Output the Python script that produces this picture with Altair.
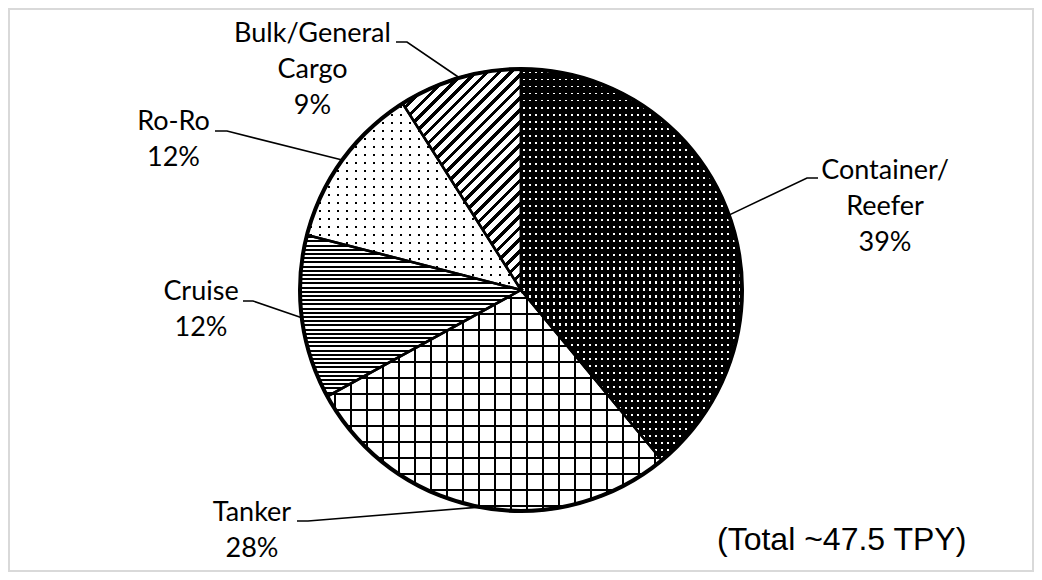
import math
import altair as alt
import pandas as pd

# ---------------- data ----------------
categories = ["Container/Reefer", "Tanker", "Cruise", "Ro-Ro", "Bulk/General Cargo"]
shares = [39, 28, 12, 12, 9]
label_names = ["Container/\nReefer", "Tanker", "Cruise", "Ro-Ro", "Bulk/General\nCargo"]
total_note = "(Total ~47.5 TPY)"

# ---------------- layout (pixels) ----------------
W, H = 1024, 562
PAD = 1
OFF = 8 + PAD            # page offset of the plot area
R = 221                  # pie radius
CX, CY = W / 2, H / 2
# label anchors (centre x, first baseline y), leader elbows and ends in page pixels
label_anchor = [(885, 179), (252, 521), (201, 300), (173.5, 130), (312.5, 42)]
leader_elbow = [(807, 178), (308, 521), (253, 301), (227, 131), (407, 42)]
leader_end = [(818, 178), (297, 521), (243, 301), (215, 131), (396, 42)]
note_pos = (717, 550)

# ---------------- derived tables ----------------
total = sum(shares)
starts, ends = [], []
acc = 0
for s in shares:
    starts.append(acc / total * 100)
    acc += s
    ends.append(acc / total * 100)

df = pd.DataFrame({"cat": categories, "share": shares, "start": starts, "end": ends})

lab_rows = []
line_rows = []
for i, c in enumerate(categories):
    mid = math.radians((starts[i] + ends[i]) / 2 * 3.6)
    rx, ry = CX + R * math.sin(mid), CY - R * math.cos(mid)
    lab_rows.append({"cat": c, "x": label_anchor[i][0] - OFF, "y": label_anchor[i][1] - OFF,
                     "text": f"{label_names[i]}\n{shares[i]}%"})
    pts = [(rx, ry), (leader_elbow[i][0] - OFF, leader_elbow[i][1] - OFF),
           (leader_end[i][0] - OFF, leader_end[i][1] - OFF)]
    for k, (px, py) in enumerate(pts):
        line_rows.append({"cat": c, "k": k, "x": px, "y": py})
lab_df = pd.DataFrame(lab_rows)
line_df = pd.DataFrame(line_rows)


# ---------------- pattern helpers ----------------
def slice_bbox(i):
    a0, a1 = starts[i] * 3.6, ends[i] * 3.6
    pts = [(0.0, 0.0)]
    for a in [a0, a1] + [c for c in (0, 90, 180, 270, 360) if a0 < c < a1]:
        r = math.radians(a)
        pts.append((R * math.sin(r), -R * math.cos(r)))
    xs = [p[0] for p in pts]
    ys = [p[1] for p in pts]
    return max(xs) - min(xs), max(ys) - min(ys)


def stripe_stops(length, period, on, on_color, off_color):
    stops = [{"offset": 0, "color": off_color}]
    pos = (period - on) / 2
    while pos < length:
        s = round(pos / length, 5)
        e = round(min((pos + on) / length, 1), 5)
        stops += [{"offset": s, "color": off_color}, {"offset": s, "color": on_color},
                  {"offset": e, "color": on_color}, {"offset": e, "color": off_color}]
        pos += period
    stops.append({"offset": 1, "color": off_color})
    return stops


def grad_h(i, period, on, on_color, off_color):
    """stripes that vary along y (horizontal lines)"""
    w, h = slice_bbox(i)
    return {"gradient": "linear", "x1": 0, "y1": 0, "x2": 0, "y2": 1,
            "stops": stripe_stops(h, period, on, on_color, off_color)}


def grad_v(i, period, on, on_color, off_color):
    """stripes that vary along x (vertical lines)"""
    w, h = slice_bbox(i)
    return {"gradient": "linear", "x1": 0, "y1": 0, "x2": 1, "y2": 0,
            "stops": stripe_stops(w, period, on, on_color, off_color)}


def grad_diag(i, period, on, on_color, off_color):
    """45 degree '/' stripes"""
    w, h = slice_bbox(i)
    a = (w + h) / (w * w + h * h)
    L = (w + h) / math.sqrt(2)
    return {"gradient": "linear", "x1": 0, "y1": 0, "x2": a * w, "y2": a * h,
            "stops": stripe_stops(L, period, on, on_color, off_color)}


CLEAR = "rgba(255,255,255,0)"
patterns = {
    # container: black with white dots
    0: [grad_h(0, 7, 2, "#ffffff", "#000000"), grad_v(0, 6, 2, CLEAR, "#000000")],
    # tanker: grid
    1: [grad_v(1, 16, 2, "#000000", "#ffffff"), grad_h(1, 16, 2, "#000000", CLEAR)],
    # cruise: horizontal lines
    2: [grad_h(2, 4.2, 2, "#000000", "#ffffff")],
    # ro-ro: white with black dots
    3: [grad_h(3, 8, 2, "#000000", "#ffffff"), grad_v(3, 9, 2, CLEAR, "#ffffff")],
    # bulk: diagonal stripes
    4: [grad_diag(4, 8.3, 3.3, "#000000", "#ffffff")],
}

theta_scale = alt.Scale(domain=[0, 100])
base = alt.Chart(df)

layers = []
for i, c in enumerate(categories):
    for g in patterns[i]:
        layers.append(
            base.transform_filter(alt.datum.cat == c)
            .mark_arc(radius=R, fill=g, strokeWidth=0)
            .encode(theta=alt.Theta("start:Q", scale=theta_scale, stack=None),
                    theta2="end:Q")
        )

# slice edges
layers.append(
    base.mark_arc(radius=R, filled=False, stroke="#000000", strokeWidth=2.5)
    .encode(theta=alt.Theta("start:Q", scale=theta_scale, stack=None), theta2="end:Q")
)
# outer rim
layers.append(
    alt.Chart(pd.DataFrame({"k": [0]}))
    .mark_arc(radius=R, theta=0, theta2=math.tau, filled=False, stroke="#000000", strokeWidth=4)
    .encode(detail="k:N")
)

xs = alt.Scale(domain=[0, W])
ys = alt.Scale(domain=[0, H], reverse=True)

leaders = alt.Chart(line_df).mark_line(color="#000000", strokeWidth=1.6).encode(
    x=alt.X("x:Q", scale=xs, axis=None),
    y=alt.Y("y:Q", scale=ys, axis=None),
    detail="cat:N",
    order="k:Q",
)
labels = alt.Chart(lab_df).mark_text(
    align="center", baseline="alphabetic", font="Lato", fontSize=27, lineHeight=36,
    lineBreak="\n", color="#000000"
).encode(x=alt.X("x:Q", scale=xs, axis=None), y=alt.Y("y:Q", scale=ys, axis=None), text="text:N")

note = alt.Chart(pd.DataFrame({"t": [total_note], "x": [note_pos[0] - OFF], "y": [note_pos[1] - OFF]})).mark_text(
    align="left", baseline="alphabetic", font="Liberation Sans", fontSize=32, color="#000000"
).encode(x=alt.X("x:Q", scale=xs, axis=None), y=alt.Y("y:Q", scale=ys, axis=None), text="t:N")

chart = alt.layer(*layers, leaders, labels, note).properties(
    width=W, height=H, padding=PAD, autosize="none", background="#ffffff"
).configure_view(stroke="#d9d9d9", strokeWidth=2)

chart.save("out.html", embed_options={"renderer": "svg", "actions": False})
